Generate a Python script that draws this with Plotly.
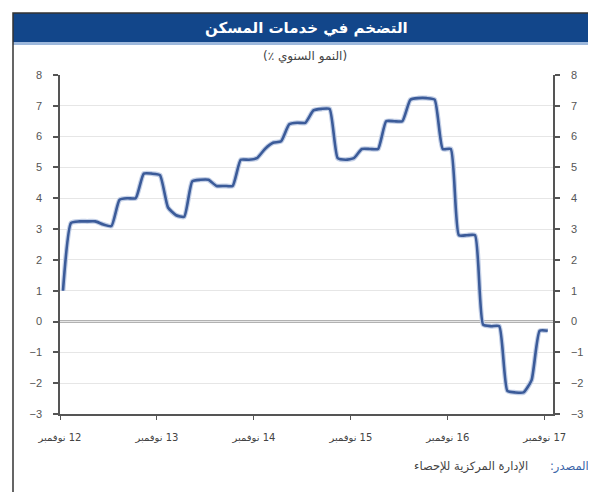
import plotly.graph_objects as go

# Monthly housing-services inflation, Nov 2012 .. Nov 2017 (% y/y)
values = [1.0, 3.2, 3.25, 3.25, 3.25, 3.15, 3.1, 3.95, 4.0, 4.0,
          4.8, 4.8, 4.75, 3.7, 3.45, 3.4, 4.55, 4.6, 4.6, 4.4,
          4.4, 4.4, 5.25, 5.25, 5.3, 5.6, 5.8, 5.85, 6.4, 6.45,
          6.45, 6.85, 6.9, 6.9, 5.3, 5.25, 5.3, 5.6, 5.6, 5.6,
          6.5, 6.5, 6.5, 7.2, 7.25, 7.25, 7.2, 5.6, 5.6, 2.8,
          2.8, 2.8, -0.1, -0.15, -0.15, -2.25, -2.3, -2.3, -1.9, -0.3,
          -0.3]
month_word = "نوفمبر"
tick_years = ["12", "13", "14", "15", "16", "17"]
y_ticks = [-3, -2, -1, 0, 1, 2, 3, 4, 5, 6, 7, 8]

title_text = "التضخم في خدمات المسكن"
subtitle_text = "(٪ النمو السنوي)"
source_label = "المصدر:"
source_text = "الإدارة المركزية للإحصاء"

LRE, PDF, LRM, RLM = "\u202a", "\u202c", "\u200e", "\u200f"
tick_text = [LRE + month_word + LRM + " " + y + PDF for y in tick_years]

months = list(range(len(values)))
tick_pos = [12 * i - 0.37 for i in range(len(tick_years))]

OFF = 8  # page body margin
W, H = 596 - OFF, 492 - OFF
# plot area in window pixels: x 60..553, y 75..414
L, R, T, B = 60 - OFF, W - (553 - OFF), 75 - OFF, H - (414 - OFF)
pw, ph = W - L - R, H - T - B

def px(xw):
    return (xw - OFF - L) / pw

def py(yw):
    return (H - B - (yw - OFF)) / ph

FONT = "Liberation Sans, DejaVu Sans, Arial, sans-serif"
AR = "DejaVu Sans, Liberation Sans, sans-serif"
AXC = "#555555"

fig = go.Figure()
fig.add_trace(go.Scatter(x=months, y=values, mode="lines",
                         line=dict(color="#c3cfe6", width=5, shape="spline", smoothing=0.5),
                         hoverinfo="skip", showlegend=False))
fig.add_trace(go.Scatter(x=months, y=values, mode="lines",
                         line=dict(color="#3b5b99", width=2.6, shape="spline", smoothing=0.5),
                         showlegend=False))
fig.add_trace(go.Scatter(x=[months[0]], y=[values[0]], yaxis="y2", mode="lines",
                         line=dict(width=0), hoverinfo="skip", showlegend=False))

axis_common = dict(range=[-3, 8], tickvals=y_ticks, showline=True, linecolor=AXC, linewidth=1.5,
                   ticks="outside", ticklen=5, tickcolor=AXC, tickwidth=1.5, ticklabelstandoff=9,
                   tickfont=dict(family=FONT, size=11, color="#555555"), zeroline=False)

fig.update_layout(
    width=W, height=H, margin=dict(l=L, r=R, t=T, b=B),
    paper_bgcolor="white", plot_bgcolor="white",
    xaxis=dict(range=[-0.37, 60.65], tickvals=tick_pos, ticktext=tick_text,
               showgrid=False, zeroline=False, showline=True, linecolor=AXC, linewidth=1.5,
               ticks="outside", ticklen=4, tickcolor=AXC, tickwidth=1.2, ticklabelstandoff=9,
               tickfont=dict(family=AR, size=10, color="#444444")),
    yaxis=dict(showgrid=True, gridcolor="#e6e6e6", gridwidth=1, **axis_common),
    yaxis2=dict(overlaying="y", side="right", showgrid=False, **axis_common),
)

# zero line
fig.add_shape(type="line", xref="paper", yref="y", x0=0, x1=1, y0=0, y1=0,
              line=dict(color="#666666", width=2), layer="below")

# outer frame
fig.add_shape(type="rect", xref="paper", yref="paper", x0=px(13), x1=px(610), y0=py(510), y1=py(13),
              line=dict(color="#333333", width=1.5), fillcolor="rgba(0,0,0,0)", layer="above")
# title bar
fig.add_shape(type="rect", xref="paper", yref="paper", x0=px(13), x1=px(610), y0=py(42), y1=py(13),
              line=dict(width=0), fillcolor="#12468a", layer="below")
fig.add_shape(type="rect", xref="paper", yref="paper", x0=px(13), x1=px(610), y0=py(45), y1=py(42),
              line=dict(width=0), fillcolor="#9db8dc", layer="below")

fig.add_annotation(text="<b>" + title_text + "</b>", xref="paper", yref="paper",
                   x=px(306), y=py(28), yanchor="middle", showarrow=False,
                   font=dict(family=AR, size=15, color="white"))
fig.add_annotation(text=LRE + subtitle_text + PDF, xref="paper", yref="paper",
                   x=px(305), y=py(57), yanchor="middle", showarrow=False,
                   font=dict(family=AR, size=12, color="#444444"))
fig.add_annotation(text=source_label + RLM, xref="paper", yref="paper",
                   x=px(591), y=py(466), xanchor="right", yanchor="middle", showarrow=False,
                   font=dict(family=AR, size=11.5, color="#3a64a8"))
fig.add_annotation(text=source_text, xref="paper", yref="paper",
                   x=px(530), y=py(466), xanchor="right", yanchor="middle", showarrow=False,
                   font=dict(family=AR, size=11.5, color="#444444"))

fig.write_html("out.html")
